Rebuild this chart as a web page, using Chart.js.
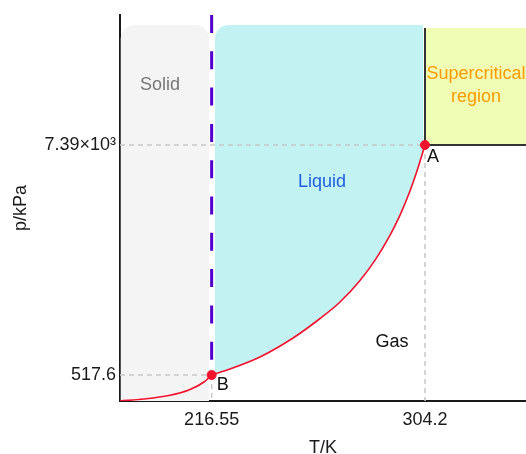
<!DOCTYPE html>
<html lang="en">
<head>
    <meta charset="UTF-8">
    <title>CO2 phase diagram</title>
    <style>
        html, body { margin: 0; padding: 0; background: #fff; }
        #wrap { width: 526px; height: 454px; }
    </style>
    <script src="https://cdn.jsdelivr.net/npm/chart.js"></script>
</head>
<body>
    <div id="wrap"><canvas id="phaseChart" width="526" height="454"></canvas></div>
    <script>
        // Axis ranges (schematic)
        const tempRange = [178.9, 345.7];
        const pressRange = [-259, 11274];

        // Tick labels
        const tempTicks = [216.55, 304.2];
        const tempTickLabels = ['216.55', '304.2'];
        const pressTicks = [517.6, 7390];
        const pressTickLabels = ['517.6', '7.39×10³'];

        // Sublimation curve (to triple point B)
        const sublimT = [178.9, 188.7, 199.0, 207.2, 213.4, 216.55];
        const sublimP = [-259, -200, -95, 69, 308, 517.6];

        // Vaporisation curve (B to critical point A)
        const vaporT = [216.55, 224.1, 236.4, 250.0, 261.1, 269.3, 277.5, 283.7, 289.8, 293.9, 298.0, 301.3, 304.2];
        const vaporP = [517.6, 697, 1055, 1623, 2206, 2699, 3344, 3951, 4692, 5289, 6007, 6700, 7390];

        // Special points
        const pointNames = ['B', 'A'];
        const pointT = [216.55, 304.2];
        const pointP = [517.6, 7390];

        // Regions
        const regionTopP = 10976;
        const solidT = [179.2, 215.45];
        const liquidT = [217.9, 303.4];
        const superTopP = 10886;

        const regionNames = [['Solid'], ['Liquid'], ['Supercritical', 'region'], ['Gas']];
        const regionLabelT = [195.3, 261.9, 325.2, 290.6];
        const regionLabelP = [9183, 6284, 9168, 1504];

        const FONT = 'Arial, "Liberation Sans", sans-serif';
        const regionColors = ['#777777', '#1f5fe0', '#ff9a00', '#111111'];

        function xy(xs, ys) {
            return xs.map((x, i) => ({ x: x, y: ys[i] }));
        }

        function topRoundRect(ctx, x, y, w, h, rl, rr) {
            ctx.moveTo(x, y + h);
            ctx.lineTo(x, y + rl);
            ctx.arcTo(x, y, x + rl, y, rl);
            ctx.lineTo(x + w - rr, y);
            if (rr > 0) ctx.arcTo(x + w, y, x + w, y + rr, rr);
            else ctx.lineTo(x + w, y);
            ctx.lineTo(x + w, y + h);
            ctx.closePath();
        }

        // Draws the coloured phase regions under the lines
        const regionsPlugin = {
            id: 'regions',
            beforeDatasetsDraw(chart) {
                const ctx = chart.ctx;
                const xs = chart.scales.x, ys = chart.scales.y;
                const area = chart.chartArea;
                const top = ys.getPixelForValue(regionTopP);

                // solid
                ctx.save();
                ctx.beginPath();
                const sx0 = xs.getPixelForValue(solidT[0]), sx1 = xs.getPixelForValue(solidT[1]);
                topRoundRect(ctx, sx0, top, sx1 - sx0, area.bottom - top, 14, 14);
                ctx.fillStyle = '#f4f4f4';
                ctx.fill();
                ctx.restore();

                // liquid, bounded below by the vaporisation curve
                const meta = chart.getDatasetMeta(1);
                meta.dataset.updateControlPoints(area, 'x');
                const pts = meta.data;
                const lx0 = xs.getPixelForValue(liquidT[0]), lx1 = xs.getPixelForValue(liquidT[1]);
                ctx.save();
                ctx.beginPath();
                topRoundRect(ctx, lx0, top, lx1 - lx0, area.bottom - top, 14, 0);
                ctx.clip();
                ctx.beginPath();
                ctx.moveTo(pts[0].x, pts[0].y);
                for (let i = 1; i < pts.length; i++) {
                    const a = pts[i - 1], b = pts[i];
                    if (a.cp2x !== undefined && b.cp1x !== undefined) {
                        ctx.bezierCurveTo(a.cp2x, a.cp2y, b.cp1x, b.cp1y, b.x, b.y);
                    } else {
                        ctx.lineTo(b.x, b.y);
                    }
                }
                ctx.lineTo(pts[pts.length - 1].x + 5, pts[pts.length - 1].y);
                ctx.lineTo(pts[pts.length - 1].x + 5, top);
                ctx.lineTo(pts[0].x, top);
                ctx.closePath();
                ctx.fillStyle = '#c3f2f3';
                ctx.fill();
                ctx.restore();

                // supercritical
                const ax = xs.getPixelForValue(pointT[1]), ay = ys.getPixelForValue(pointP[1]);
                const stop = ys.getPixelForValue(superTopP);
                ctx.save();
                ctx.fillStyle = '#f0fdb5';
                ctx.fillRect(ax, stop, area.right - ax, ay - stop);
                ctx.strokeStyle = '#333333';
                ctx.lineWidth = 2;
                ctx.beginPath();
                ctx.moveTo(ax, stop);
                ctx.lineTo(ax, ay);
                ctx.lineTo(area.right, ay);
                ctx.stroke();
                ctx.restore();
            },
            afterDatasetsDraw(chart) {
                const ctx = chart.ctx;
                const xs = chart.scales.x, ys = chart.scales.y;
                ctx.save();
                ctx.font = '18px ' + FONT;
                ctx.textAlign = 'center';
                ctx.textBaseline = 'middle';
                regionNames.forEach((lines, i) => {
                    const cx = xs.getPixelForValue(regionLabelT[i]);
                    const cy = ys.getPixelForValue(regionLabelP[i]);
                    ctx.fillStyle = regionColors[i];
                    const h = 23;
                    lines.forEach((t, j) => {
                        ctx.fillText(t, cx, cy + (j - (lines.length - 1) / 2) * h);
                    });
                });
                // point names
                ctx.fillStyle = '#111111';
                ctx.textAlign = 'left';
                pointNames.forEach((n, i) => {
                    const px = xs.getPixelForValue(pointT[i]);
                    const py = ys.getPixelForValue(pointP[i]);
                    const dx = n === 'B' ? 5 : 2, dy = n === 'B' ? 10 : 12;
                    ctx.fillText(n, px + dx, py + dy);
                });
                ctx.restore();
            }
        };

        const guideStyle = {
            type: 'line', borderColor: '#c8c8c8', borderWidth: 1.5, borderDash: [5, 4],
            pointRadius: 0, fill: false, tension: 0
        };

        const ctx = document.getElementById('phaseChart').getContext('2d');
        const phaseChart = new Chart(ctx, {
            type: 'line',
            data: {
                datasets: [
                    {
                        label: 'Points', type: 'scatter', data: xy(pointT, pointP),
                        pointRadius: 4.5, pointBackgroundColor: '#f2122e', pointBorderColor: '#f2122e',
                        showLine: false
                    },
                    {
                        label: 'Vaporisation', data: xy(vaporT, vaporP),
                        borderColor: '#f2122e', borderWidth: 1.6, pointRadius: 0,
                        cubicInterpolationMode: 'monotone', fill: false
                    },
                    {
                        label: 'Sublimation', data: xy(sublimT, sublimP),
                        borderColor: '#f2122e', borderWidth: 1.6, pointRadius: 0,
                        cubicInterpolationMode: 'monotone', fill: false
                    },
                    {
                        label: 'Melting', data: [{ x: pointT[0], y: pressRange[1] }, { x: pointT[0], y: pointP[0] }],
                        borderColor: '#5200cc', borderWidth: 3, borderDash: [18, 18.3],
                        pointRadius: 0, fill: false, borderCapStyle: 'butt'
                    },
                    Object.assign({ label: 'gA1', data: [{ x: tempRange[0], y: pointP[1] }, { x: pointT[1], y: pointP[1] }] }, guideStyle),
                    Object.assign({ label: 'gA2', data: [{ x: pointT[1], y: pointP[1] }, { x: pointT[1], y: pressRange[0] }] }, guideStyle),
                    Object.assign({ label: 'gB1', data: [{ x: tempRange[0], y: pointP[0] }, { x: pointT[0], y: pointP[0] }] }, guideStyle),
                    Object.assign({ label: 'gB2', data: [{ x: pointT[0], y: pointP[0] }, { x: pointT[0], y: pressRange[0] }] }, guideStyle)
                ]
            },
            options: {
                responsive: false,
                animation: false,
                layout: { autoPadding: false, padding: { top: 15, right: 0, bottom: 0, left: 0 } },
                plugins: {
                    legend: { display: false },
                    tooltip: { enabled: false }
                },
                scales: {
                    x: {
                        type: 'linear',
                        min: tempRange[0], max: tempRange[1],
                        grid: { display: false, drawTicks: false },
                        border: { display: true, color: '#1a1a1a', width: 2 },
                        afterBuildTicks: s => { s.ticks = tempTicks.map(v => ({ value: v })); },
                        afterFit: s => { s.height = 53; },
                        ticks: {
                            padding: 8, color: '#1a1a1a', font: { family: FONT, size: 18 },
                            autoSkip: false, maxRotation: 0,
                            callback: v => tempTickLabels[tempTicks.indexOf(v)]
                        },
                        title: {
                            display: true, text: 'T/K', color: '#1a1a1a',
                            font: { family: FONT, size: 18, lineHeight: 1 },
                            padding: { top: 0, bottom: -3 }
                        }
                    },
                    y: {
                        type: 'linear',
                        min: pressRange[0], max: pressRange[1],
                        grid: { display: false, drawTicks: false },
                        border: { display: true, color: '#1a1a1a', width: 2 },
                        afterBuildTicks: s => { s.ticks = pressTicks.map(v => ({ value: v })); },
                        afterFit: s => { s.width = 120; },
                        ticks: {
                            padding: 4, color: '#1a1a1a', font: { family: FONT, size: 18 },
                            autoSkip: false,
                            callback: v => pressTickLabels[pressTicks.indexOf(v)]
                        },
                        title: {
                            display: true, text: 'p/kPa', color: '#1a1a1a',
                            font: { family: FONT, size: 18, lineHeight: 1 },
                            padding: { top: 12, bottom: 0 }
                        }
                    }
                }
            },
            plugins: [regionsPlugin]
        });
    </script>
</body>
</html>
